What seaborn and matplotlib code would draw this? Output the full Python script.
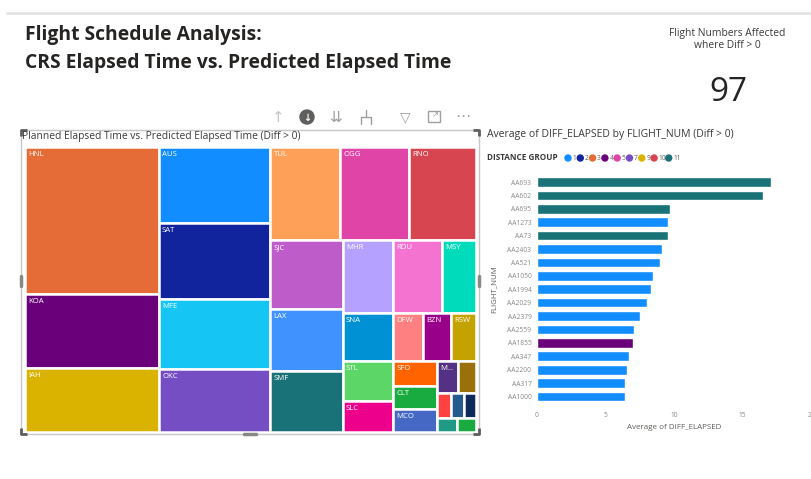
import matplotlib
matplotlib.use("Agg")
import matplotlib.pyplot as plt
from matplotlib.patches import Rectangle, Circle
import pandas as pd
import seaborn as sns

# ---------------- data ----------------
airports = ["HNL", "KOA", "IAH", "AUS", "SAT", "MFE", "OKC", "TUL", "OGG", "RNO",
            "SJC", "LAX", "SMF", "MHR", "RDU", "MSY", "SNA", "STL", "SLC", "DFW",
            "BZN", "RSW", "SFO", "CLT", "MCO", "MSP", "ELP", "ABQ", "ORD", "PHX",
            "DEN", "BOS"]
airport_diff = [195.6, 98.8, 86.1, 85.3, 84.7, 77.5, 70.3, 65.1, 64.2, 62.3,
                50.0, 44.6, 44.5, 36.9, 35.8, 24.8, 24.0, 20.0, 15.5, 14.6,
                13.4, 12.0, 11.1, 10.2, 10.1, 6.6, 5.7, 3.5, 3.2, 3.1,
                2.9, 2.7]
airport_colors = ["#E66C37", "#6B007B", "#D9B300", "#118DFF", "#12239E", "#15C6F4",
                  "#744EC2", "#FFA058", "#E044A7", "#D64550", "#BE5DC9", "#4092FF",
                  "#197278", "#B5A1FF", "#F472D0", "#00DBBC", "#0091D5", "#5BD667",
                  "#EC008C", "#FF8080", "#99008A", "#C4A200", "#FF6300", "#1AAB40",
                  "#4668C5", "#533285", "#99700A", "#FF4141", "#255A8F", "#0E2A5C",
                  "#1F9A85", "#1AAB40"]

flight_nums = ["AA693", "AA602", "AA695", "AA1273", "AA73", "AA2403", "AA521",
               "AA1050", "AA1994", "AA2029", "AA2379", "AA2559", "AA1855",
               "AA347", "AA2200", "AA317", "AA1000"]
avg_diff = [17.05, 16.5, 9.7, 9.55, 9.55, 9.1, 9.0, 8.5, 8.3, 8.0, 7.5, 7.05,
            7.0, 6.7, 6.6, 6.45, 6.45]
distance_group = ["11", "11", "11", "1", "11", "1", "1", "1", "1", "1", "1", "1",
                  "4", "1", "1", "1", "1"]

legend_groups = ["1", "2", "3", "4", "5", "7", "9", "10", "11"]
group_colors = ["#118DFF", "#12239E", "#E66C37", "#6B007B", "#E044A7", "#744EC2",
                "#D9B300", "#D64550", "#197278"]

kpi_value = 97
x_ticks = [0, 5, 10, 15, 20]

# ---------------- helpers ----------------
W, H = 811, 479


def fig_rect(x0, y0, x1, y1):
    """pixel box (top-left origin) -> figure fraction rect"""
    return [x0 / W, 1 - y1 / H, (x1 - x0) / W, (y1 - y0) / H]


def squarify(values, x0, y0, x1, y1, ratio=1.45):
    """Squarified treemap layout (rows chosen by target aspect ratio)."""
    value = float(sum(values))
    rects = []
    n = len(values)
    i0 = 0
    while i0 < n:
        dx, dy = x1 - x0, y1 - y0
        i1 = i0
        s = values[i1]
        i1 += 1
        mn = mx = s
        alpha = max(dy / dx, dx / dy) / (value * ratio)
        beta = s * s * alpha
        best = max(mx / beta, beta / mn)
        while i1 < n:
            v = values[i1]
            s2 = s + v
            mn2, mx2 = min(mn, v), max(mx, v)
            beta = s2 * s2 * alpha
            r = max(mx2 / beta, beta / mn2)
            if r > best:
                break
            s, mn, mx, best = s2, mn2, mx2, r
            i1 += 1
        row = values[i0:i1]
        if dx < dy:
            h = dy * s / value
            xx = x0
            for v in row:
                w = dx * v / s
                rects.append((xx, y0, w, h))
                xx += w
            y0 += h
        else:
            w = dx * s / value
            yy = y0
            for v in row:
                h = dy * v / s
                rects.append((x0, yy, w, h))
                yy += h
            x0 += w
        value -= s
        i0 = i1
    return rects


# ---------------- figure ----------------
sns.set_theme(style="white")
plt.rcParams["font.family"] = ["Open Sans", "DejaVu Sans"]

fig = plt.figure(figsize=(W / 100, H / 100), dpi=100)
fig.patch.set_facecolor("white")

ov = fig.add_axes([0, 0, 1, 1])
ov.set_xlim(0, W)
ov.set_ylim(H, 0)
ov.axis("off")

# page top rule
ov.plot([6, W], [13, 13], color="#E3E3E3", lw=2, solid_capstyle="butt")

# titles
ov.text(25, 35, "Flight Schedule Analysis:", fontsize=13.9, fontweight="bold",
        color="#252423", va="center", ha="left")
ov.text(25, 63, "CRS Elapsed Time vs. Predicted Elapsed Time", fontsize=13.9,
        fontweight="bold", color="#252423", va="center", ha="left")

# KPI card
ov.text(727, 33, "Flight Numbers Affected", fontsize=7.4, color="#3B3A39",
        ha="center", va="center")
ov.text(727, 45, "where Diff > 0", fontsize=7.4, color="#3B3A39",
        ha="center", va="center")
ov.text(728, 92, str(kpi_value), fontsize=24, color="#252423",
        ha="center", va="center")

# visual header icons
icon_c = "#A19F9D"
ov.text(278, 117, "\u2191", fontsize=11, color="#C8C6C4", ha="center", va="center",
        family="DejaVu Sans")
ov.add_patch(Circle((307, 117), 7, color="#605E5C"))
ov.text(307, 117.5, "\u2193", fontsize=7, color="white", ha="center", va="center",
        fontweight="bold", family="DejaVu Sans")
ov.text(336, 117, "\u21CA", fontsize=11, color=icon_c, ha="center", va="center",
        family="DejaVu Sans")
ov.plot([366, 366], [110, 117], color=icon_c, lw=1)
ov.plot([361, 361, 371, 371], [124, 117, 117, 124], color=icon_c, lw=1)
ov.text(405, 117, "\u25BD", fontsize=10, color=icon_c, ha="center", va="center",
        family="DejaVu Sans")
ov.add_patch(Rectangle((428, 111), 12, 11, fill=False, ec=icon_c, lw=1))
ov.text(435, 115, "\u2197", fontsize=6, color=icon_c, ha="center", va="center",
        family="DejaVu Sans")
ov.text(463, 116, "\u22EF", fontsize=11, color=icon_c, ha="center", va="center",
        family="DejaVu Sans")

# treemap visual frame with selection handles
ov.add_patch(Rectangle((21, 130), 458, 304, fill=False, ec="#C8C6C4", lw=1))
hc = "#605E5C"
for (cx, cy, sx, sy) in [(21, 130, 1, 1), (479, 130, -1, 1), (21, 434, 1, -1),
                         (479, 434, -1, -1)]:
    ov.plot([cx + sx * 6, cx, cx], [cy, cy, cy + sy * 6], color=hc, lw=2,
            solid_capstyle="butt")
ov.plot([21, 21], [276, 286], color="#8A8886", lw=2.5)
ov.plot([479, 479], [276, 286], color="#8A8886", lw=2.5)
ov.plot([244, 256], [434, 434], color="#8A8886", lw=2.5)
ov.text(22, 136.5, "Planned Elapsed Time vs. Predicted Elapsed Time (Diff > 0)",
        fontsize=7.4, color="#3B3A39", ha="left", va="center")

# ---------------- treemap ----------------
TX0, TY0, TX1, TY1 = 25, 147, 476, 432
tm = fig.add_axes(fig_rect(TX0, TY0, TX1, TY1))
tm.set_xlim(0, TX1 - TX0)
tm.set_ylim(TY1 - TY0, 0)
tm.axis("off")
tm.patch.set_alpha(0)

cells = squarify(airport_diff, 0, 0, TX1 - TX0, TY1 - TY0)
for name, color, (x, y, w, h) in zip(airports, airport_colors, cells):
    tm.add_patch(Rectangle((x, y), w, h, facecolor=color, edgecolor="white", lw=1.8))
    if w >= 20 and h >= 18:
        label = name if w >= 23 else name[0] + "..."
        tm.text(x + 3.5, y + 4, label, fontsize=5.6, color="white",
                ha="left", va="top")

# ---------------- bar chart ----------------
ov.text(487, 135, "Average of DIFF_ELAPSED by FLIGHT_NUM (Diff > 0)", fontsize=7.5,
        color="#3B3A39", ha="left", va="center")
ov.text(487, 158, "DISTANCE GROUP", fontsize=5.9, fontweight="bold",
        color="#3B3A39", ha="left", va="center")
lx = 565
for g, c in zip(legend_groups, group_colors):
    ov.add_patch(Circle((lx + 3, 158), 3, color=c))
    ov.text(lx + 7.5, 158, g, fontsize=4.8, color="#605E5C", ha="left", va="center")
    lx += 12.3 if len(g) == 1 else 14.6

palette = dict(zip(legend_groups, group_colors))
df = pd.DataFrame({"FLIGHT_NUM": flight_nums, "DIFF": avg_diff,
                   "GROUP": distance_group})

bx = fig.add_axes(fig_rect(537, 175.3, 811, 403.2))
bx.patch.set_alpha(0)
sns.barplot(data=df, x="DIFF", y="FLIGHT_NUM", hue="GROUP", order=flight_nums,
            palette=palette, dodge=False, width=0.72, legend=False, ax=bx,
            saturation=1)
bx.set_xlim(0, 20)
bx.set_ylim(len(flight_nums) - 0.5, -0.5)
bx.set_xticks(x_ticks)
bx.set_xticklabels([str(t) for t in x_ticks])
for s in bx.spines.values():
    s.set_visible(False)
bx.tick_params(axis="both", length=0, labelsize=4.8, colors="#8A8886")
bx.tick_params(axis="x", pad=6)
bx.tick_params(axis="y", pad=4)
bx.set_ylabel("FLIGHT_NUM", fontsize=5.6, color="#605E5C", labelpad=7)
bx.set_xlabel("Average of DIFF_ELAPSED", fontsize=5.8, color="#605E5C", labelpad=4)
bx.grid(False)

fig.savefig("out.png", dpi=100, facecolor="white")
